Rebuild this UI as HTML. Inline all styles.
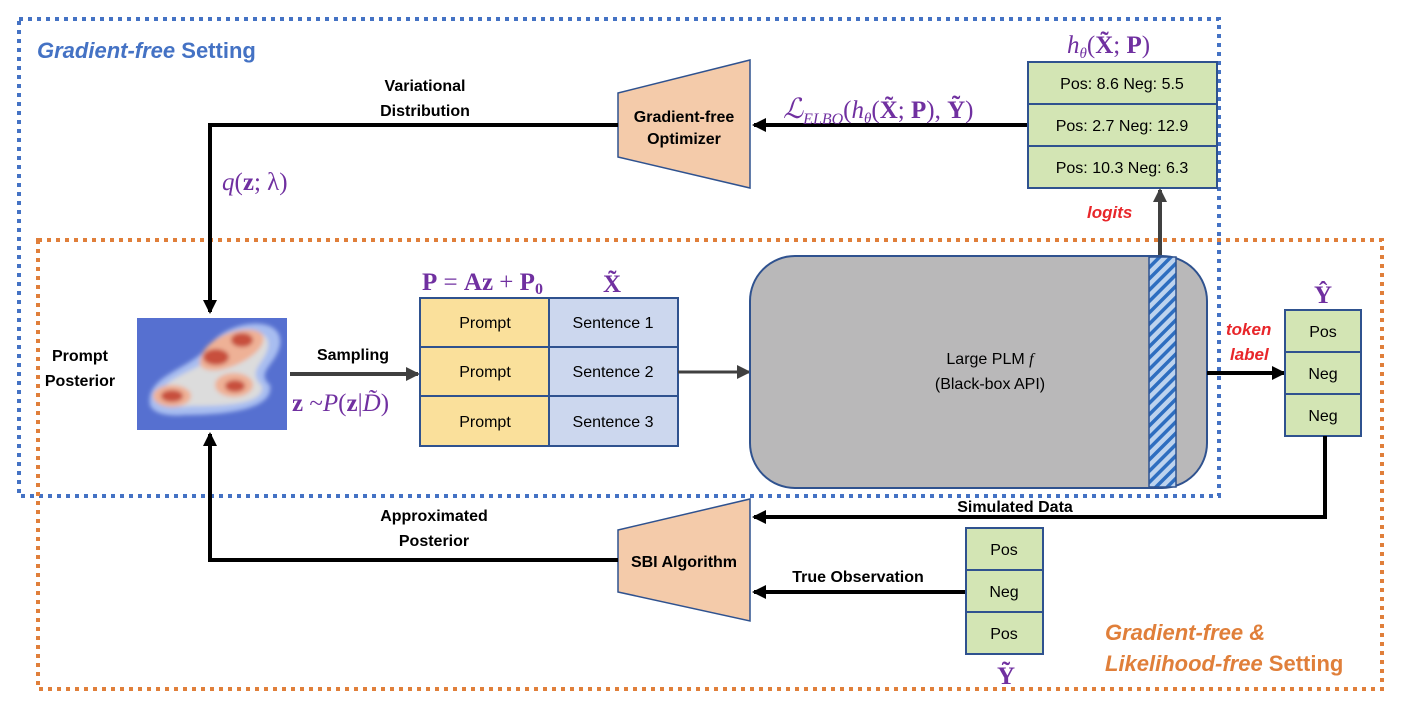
<!DOCTYPE html>
<html><head><meta charset="utf-8"><style>
body{margin:0;background:#fff}
svg{display:block}
text{font-family:"Liberation Sans",sans-serif}
.b{font-weight:bold;font-size:16px;fill:#000}
.c{font-size:16px;fill:#000}
.m{font-family:"Liberation Serif",serif;fill:#7030a0;font-size:25px}
</style></head><body>
<svg width="1406" height="714" viewBox="0 0 1406 714" xmlns="http://www.w3.org/2000/svg">
<defs>
<marker id="ak" markerWidth="14" markerHeight="14" refX="12" refY="7" orient="auto" markerUnits="userSpaceOnUse"><path d="M0,0 L14,7 L0,14 z" fill="#000"/></marker>
<marker id="ag" markerWidth="14" markerHeight="14" refX="12" refY="7" orient="auto" markerUnits="userSpaceOnUse"><path d="M0,0 L14,7 L0,14 z" fill="#404040"/></marker>
<pattern id="hatch" width="8" height="8" patternUnits="userSpaceOnUse" patternTransform="rotate(-45)"><rect width="8" height="8" fill="#bdd3ee"/><rect width="8" height="3.5" fill="#2e6ec0"/></pattern>
<filter id="bl"><feGaussianBlur stdDeviation="2"/></filter>
<clipPath id="pc"><rect x="137" y="318" width="150" height="112"/></clipPath>
</defs>

<rect x="19" y="19" width="1200" height="477" fill="none" stroke="#4472c4" stroke-width="4" stroke-dasharray="4 5"/>
<rect x="38" y="240" width="1344" height="449" fill="none" stroke="#e07f3a" stroke-width="4" stroke-dasharray="4 5"/>

<text x="37" y="58" font-size="22" font-weight="bold" fill="#4472c4"><tspan font-style="italic">Gradient-free</tspan> Setting</text>
<text x="1105" y="640" font-size="22" font-weight="bold" fill="#e07f3a" font-style="italic">Gradient-free &amp;</text>
<text x="1105" y="671" font-size="22" font-weight="bold" fill="#e07f3a"><tspan font-style="italic">Likelihood-free</tspan> Setting</text>

<polygon points="618,93 750,60 750,188 618,157" fill="#f4cbaa" stroke="#2f528f" stroke-width="1.5"/>
<text x="684" y="122" class="b" text-anchor="middle" font-size="15">Gradient-free</text>
<text x="684" y="144" class="b" text-anchor="middle" font-size="15">Optimizer</text>

<polygon points="618,530 750,499 750,621 618,592" fill="#f4cbaa" stroke="#2f528f" stroke-width="1.5"/>
<text x="684" y="567" class="b" text-anchor="middle">SBI Algorithm</text>

<polyline points="1028,125 754,125" fill="none" stroke="#000" stroke-width="4" marker-end="url(#ak)"/>
<polyline points="618,125 210,125 210,312" fill="none" stroke="#000" stroke-width="4" marker-end="url(#ak)"/>
<text x="425" y="91" class="b" text-anchor="middle">Variational</text>
<text x="425" y="116" class="b" text-anchor="middle">Distribution</text>
<text x="222" y="190" class="m" font-style="italic">q<tspan font-style="normal">(</tspan><tspan font-weight="bold" font-style="normal">z</tspan><tspan font-style="normal">; λ)</tspan></text>
<text x="783" y="118" class="m" font-size="27"><tspan font-style="italic" font-size="28">ℒ</tspan><tspan font-style="italic" font-size="16" dy="6">ELBO</tspan><tspan dy="-6">(</tspan><tspan font-style="italic">h</tspan><tspan font-style="italic" font-size="15" dy="5">θ</tspan><tspan dy="-5">(</tspan><tspan font-weight="bold">X̃</tspan>; <tspan font-weight="bold">P</tspan>), <tspan font-weight="bold">Ỹ</tspan>)</text>
<text x="1067" y="53" class="m" font-size="27"><tspan font-style="italic">h</tspan><tspan font-style="italic" font-size="15" dy="5">θ</tspan><tspan dy="-5">(</tspan><tspan font-weight="bold">X̃</tspan>; <tspan font-weight="bold">P</tspan>)</text>

<g stroke="#2f528f" stroke-width="2" fill="#d3e5b4">
<rect x="1028" y="62" width="189" height="42"/><rect x="1028" y="104" width="189" height="42"/><rect x="1028" y="146" width="189" height="42"/>
</g>
<text x="1122" y="89" class="c" text-anchor="middle">Pos: 8.6  Neg: 5.5</text>
<text x="1122" y="131" class="c" text-anchor="middle">Pos: 2.7 Neg: 12.9</text>
<text x="1122" y="173" class="c" text-anchor="middle">Pos: 10.3 Neg: 6.3</text>
<line x1="1160" y1="256" x2="1160" y2="190" stroke="#404040" stroke-width="4" marker-end="url(#ag)"/>
<text x="1087" y="218" font-size="17" font-weight="bold" font-style="italic" fill="#e8262a">logits</text>

<g clip-path="url(#pc)">
<rect x="137" y="318" width="150" height="112" fill="#5670d0"/>
<g filter="url(#bl)">
<path d="M150,405 C145,375 190,370 210,345 C230,318 285,315 280,345 C276,365 255,372 270,385 C275,412 215,415 185,415 C165,417 152,412 150,405z" fill="#a8bdf0"/>
<path d="M160,400 C156,378 200,372 218,352 C232,328 272,325 268,347 C265,364 246,370 262,386 C265,405 222,406 192,406 C172,408 162,405 160,400z" fill="#dcdcdc"/>
<ellipse cx="172" cy="396" rx="19" ry="11" fill="#eeb196"/>
<ellipse cx="234" cy="385" rx="19" ry="12" fill="#eeb196"/>
<path d="M200,360 C205,335 250,322 262,334 C270,346 245,365 220,370 C205,372 198,367 200,360z" fill="#eeb196"/>
<ellipse cx="172" cy="396" rx="11" ry="6" fill="#c8503c"/>
<ellipse cx="235" cy="386" rx="10" ry="6" fill="#c8503c"/>
<ellipse cx="216" cy="357" rx="13" ry="8" fill="#c8503c"/>
<ellipse cx="242" cy="340" rx="11" ry="7" fill="#c8503c"/>
</g>
</g>
<text x="80" y="361" class="b" text-anchor="middle">Prompt</text>
<text x="80" y="386" class="b" text-anchor="middle">Posterior</text>

<line x1="290" y1="374" x2="418" y2="374" stroke="#404040" stroke-width="4" marker-end="url(#ag)"/>
<text x="353" y="360" class="b" text-anchor="middle">Sampling</text>
<text x="292" y="411" class="m"><tspan font-weight="bold">z</tspan> ~<tspan font-style="italic">P</tspan>(<tspan font-weight="bold">z</tspan>|<tspan font-style="italic">D̃</tspan>)</text>
<text x="422" y="290" class="m"><tspan font-weight="bold">P</tspan> = <tspan font-weight="bold">Az</tspan> + <tspan font-weight="bold">P<tspan font-size="16" dy="4">0</tspan></tspan></text>
<text x="612" y="292" class="m" font-weight="bold" text-anchor="middle">X̃</text>

<g stroke="#2f528f" stroke-width="2">
<rect x="420" y="298" width="129" height="49" fill="#fae09b"/><rect x="420" y="347" width="129" height="49" fill="#fae09b"/><rect x="420" y="396" width="129" height="50" fill="#fae09b"/>
<rect x="549" y="298" width="129" height="49" fill="#ccd7ee"/><rect x="549" y="347" width="129" height="49" fill="#ccd7ee"/><rect x="549" y="396" width="129" height="50" fill="#ccd7ee"/>
</g>
<text x="485" y="328" class="c" text-anchor="middle">Prompt</text>
<text x="485" y="377" class="c" text-anchor="middle">Prompt</text>
<text x="485" y="427" class="c" text-anchor="middle">Prompt</text>
<text x="613" y="328" class="c" text-anchor="middle">Sentence 1</text>
<text x="613" y="377" class="c" text-anchor="middle">Sentence 2</text>
<text x="613" y="427" class="c" text-anchor="middle">Sentence 3</text>
<line x1="678" y1="372" x2="749" y2="372" stroke="#404040" stroke-width="3" marker-end="url(#ag)"/>

<rect x="750" y="256" width="457" height="232" rx="45" fill="#b9b8b9" stroke="#2f528f" stroke-width="2"/>
<rect x="1149" y="257" width="27" height="230" fill="url(#hatch)" stroke="#2f528f" stroke-width="1.5"/>
<text x="990" y="364" class="c" text-anchor="middle">Large PLM <tspan font-style="italic" font-family="Liberation Serif,serif">f</tspan></text>
<text x="990" y="389" class="c" text-anchor="middle">(Black-box API)</text>

<line x1="1207" y1="373" x2="1284" y2="373" stroke="#000" stroke-width="4" marker-end="url(#ak)"/>
<text x="1226" y="335" font-size="17" font-weight="bold" font-style="italic" fill="#e8262a">token</text>
<text x="1230" y="360" font-size="17" font-weight="bold" font-style="italic" fill="#e8262a">label</text>
<text x="1323" y="303" class="m" font-weight="bold" text-anchor="middle">Ŷ</text>
<g stroke="#2f528f" stroke-width="2" fill="#d3e5b4">
<rect x="1285" y="310" width="76" height="42"/><rect x="1285" y="352" width="76" height="42"/><rect x="1285" y="394" width="76" height="42"/>
</g>
<text x="1323" y="337" class="c" text-anchor="middle">Pos</text>
<text x="1323" y="379" class="c" text-anchor="middle">Neg</text>
<text x="1323" y="421" class="c" text-anchor="middle">Neg</text>

<polyline points="1325,436 1325,517 754,517" fill="none" stroke="#000" stroke-width="4" marker-end="url(#ak)"/>
<text x="1015" y="512" class="b" text-anchor="middle">Simulated Data</text>
<line x1="965" y1="592" x2="754" y2="592" stroke="#000" stroke-width="4" marker-end="url(#ak)"/>
<text x="858" y="582" class="b" text-anchor="middle">True Observation</text>
<polyline points="618,560 210,560 210,434" fill="none" stroke="#000" stroke-width="4" marker-end="url(#ak)"/>
<text x="434" y="521" class="b" text-anchor="middle">Approximated</text>
<text x="434" y="546" class="b" text-anchor="middle">Posterior</text>

<g stroke="#2f528f" stroke-width="2" fill="#d3e5b4">
<rect x="966" y="528" width="77" height="42"/><rect x="966" y="570" width="77" height="42"/><rect x="966" y="612" width="77" height="42"/>
</g>
<text x="1004" y="555" class="c" text-anchor="middle">Pos</text>
<text x="1004" y="597" class="c" text-anchor="middle">Neg</text>
<text x="1004" y="639" class="c" text-anchor="middle">Pos</text>
<text x="1006" y="684" class="m" font-weight="bold" text-anchor="middle">Ỹ</text>
</svg>
</body></html>
